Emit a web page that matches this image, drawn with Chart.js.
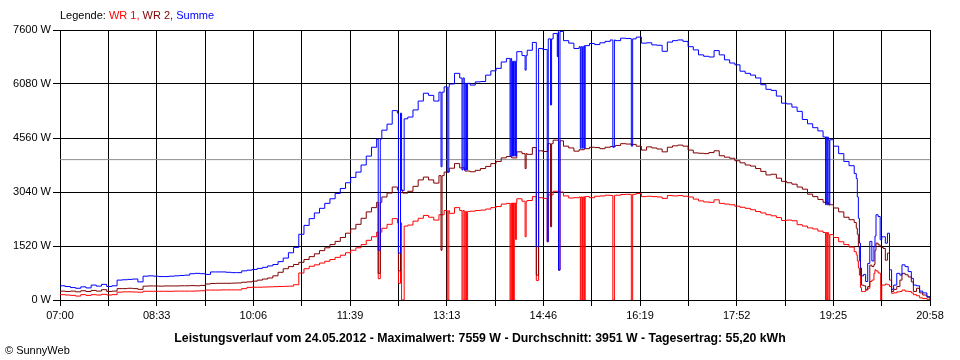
<!DOCTYPE html>
<html>
<head>
<meta charset="utf-8">
<script src="https://cdn.jsdelivr.net/npm/chart.js@4.4.1/dist/chart.umd.min.js"></script>
<style>
  html, body { margin: 0; padding: 0; background: #fff; }
  #wrap { position: relative; width: 960px; height: 360px; font-family: "Liberation Sans", Arial, sans-serif; color: #000; }
  #chart { position: absolute; left: 0; top: 0; }
  #legend  { position: absolute; left: 60px; top: 9px; font-size: 11px; line-height: 13px; white-space: nowrap; }
  #caption { position: absolute; left: 0; top: 331px; width: 960px; text-align: center; font-size: 12.3px; font-weight: bold; line-height: 14px; white-space: nowrap; }
  #copy    { position: absolute; left: 5px; top: 344px; font-size: 11px; line-height: 13px; }
</style>
</head>
<body>
<div id="wrap">
  <canvas id="chart" width="960" height="360"></canvas>
  <div id="legend">Legende: <span style="color:#ff0000">WR 1,</span> <span style="color:#800000">WR 2,</span> <span style="color:#0000ff">Summe</span></div>
  <div id="caption">Leistungsverlauf vom 24.05.2012 - Maximalwert: 7559 W - Durchschnitt: 3951 W - Tagesertrag: 55,20 kWh</div>
  <div id="copy">© SunnyWeb</div>
</div>
<script>
// ── Axis setup (minutes after 07:00) ─────────────────────
const xLabels  = ["07:00", "08:33", "10:06", "11:39", "13:13", "14:46", "16:19", "17:52", "19:25", "20:58"];
const yTicks   = [0, 1520, 3040, 4560, 6080, 7600];
const dayEnd   = 838;
const average  = 3951;

// ── 5-minute samples 07:00 .. 19:45 ──────────────────────
const dayMinutes = Array.from({ length: 154 }, (_, i) => i * 5);

const wr1Day = [
  150, 140, 130, 110, 150, 130, 150, 140, 160, 140,
  150, 220, 230, 230, 225, 220, 245, 245, 245, 245,
  245, 245, 250, 250, 250, 250, 255, 260, 280, 280,
  280, 285, 285, 285, 285, 320, 355, 360, 360, 365,
  370, 375, 380, 385, 390, 430, 760, 880, 950, 990,
  1040, 1090, 1140, 1200, 1260, 1330, 1400, 1470, 1560, 1680,
  1780, 1910, 2020, 2130, 2290, 2170, 2080, 2110, 2220, 2300,
  2380, 2330, 2250, 2400, 2520, 2440, 2600, 2520, 2490, 2500,
  2520, 2530, 2560, 2600, 2630, 2700, 2720, 2730, 2850, 2780,
  2800, 2910, 2880, 2860, 2960, 3060, 3040, 2930, 2870, 2880,
  2900, 2910, 2880, 2920, 2930, 2950, 2940, 2950, 2970, 2975,
  2975, 3000, 2910, 2920, 2910, 2900, 2860, 2940, 2930, 2940,
  2920, 2900, 2840, 2790, 2760, 2750, 2820, 2720, 2700, 2680,
  2640, 2610, 2580, 2540, 2490, 2450, 2400, 2370, 2320, 2240,
  2250, 2230, 2120, 2080, 2030, 2000, 1940, 1900, 1840, 1760,
  1640, 1560, 1490, 1360,
];

const wr2Day = [
  250, 240, 250, 230, 260, 240, 270, 250, 290, 240,
  250, 320, 320, 330, 320, 300, 390, 395, 395, 390,
  395, 395, 395, 400, 400, 405, 400, 410, 450, 465,
  470, 470, 470, 475, 480, 500, 510, 530, 560, 590,
  620, 680, 780, 880, 940, 1000, 1060, 1140, 1220, 1300,
  1390, 1470, 1560, 1650, 1760, 1880, 2000, 2130, 2300, 2480,
  2600, 2750, 2900, 3010, 3180, 3100, 3010, 3060, 3200, 3380,
  3460, 3380, 3290, 3500, 3600, 3710, 3840, 3720, 3630, 3610,
  3650, 3700, 3760, 3840, 3900, 4000, 4040, 4000, 4170, 4120,
  4100, 4290, 4200, 4180, 4400, 4500, 4480, 4330, 4280, 4190,
  4230, 4260, 4300, 4290, 4260, 4300, 4320, 4350, 4400, 4390,
  4380, 4330, 4220, 4310, 4280, 4250, 4170, 4300, 4340, 4360,
  4330, 4220, 4140, 4130, 4120, 4150, 4200, 4060, 4020, 3990,
  3920, 3860, 3800, 3770, 3700, 3620, 3520, 3540, 3430, 3340,
  3300, 3260, 3180, 3120, 2980, 2910, 2830, 2750, 2680, 2590,
  2480, 2330, 2260, 2180,
];

const summeDay = [
  400, 380, 350, 330, 370, 340, 420, 390, 440, 380,
  400, 560, 570, 580, 590, 510, 670, 680, 670, 660,
  660, 670, 680, 690, 700, 740, 750, 740, 720, 790,
  790, 790, 780, 770, 770, 820, 840, 860, 890, 920,
  960, 1000, 1080, 1180, 1330, 1480, 1850, 2100, 2290, 2450,
  2580, 2720, 2850, 3000, 3140, 3300, 3450, 3600, 3800, 4050,
  4300, 4530, 4780, 4950, 5330, 5260, 5100, 5150, 5350, 5600,
  5820, 5760, 5600, 5850, 6000, 6080, 6380, 6250, 6100, 6050,
  6140, 6150, 6330, 6450, 6520, 6700, 6800, 6720, 6990, 6880,
  7030, 7250, 7080, 7050, 7350, 7500, 7560, 7300, 7230, 7080,
  7130, 7160, 7220, 7190, 7240, 7280, 7320, 7300, 7370, 7360,
  7350, 7400, 7230, 7240, 7180, 7170, 7000, 7260, 7300, 7320,
  7280, 7130, 7040, 6900, 6860, 6840, 7020, 6900, 6760, 6670,
  6620, 6440, 6380, 6330, 6250, 6060, 5930, 5900, 5740, 5540,
  5520, 5430, 5310, 5080, 4960, 4850, 4760, 4590, 4510, 4330,
  4120, 3900, 3780, 3560,
];

// ── Dusk, denser samples 19:47 .. 20:58 ──────────────────
const duskMinutes = [767, 768, 769, 770, 771, 772, 774, 776, 778, 780, 782, 784, 785, 786, 788, 790, 790.5, 791.5,
                     793, 795, 797, 799, 801, 803, 806, 809, 811, 814, 817, 820, 822, 825, 828, 831, 835, 838];
const wr1Dusk   = [1270, 1100, 900, 700, 350, 240, 240, 280, 330, 520, 560, 750, 850, 820, 760, 750, 0, 420,
                   420, 450, 430, 380, 190, 200, 230, 240, 280, 250, 240, 200, 150, 120, 60, 40, 20, 10];
const wr2Dusk   = [2020, 1850, 1500, 1100, 700, 420, 400, 290, 380, 980, 940, 1000, 1400, 1600, 1550, 1500, 1500, 1480,
                   1450, 1120, 1320, 560, 240, 300, 380, 560, 750, 710, 650, 510, 240, 330, 200, 140, 80, 40];
const summeDusk = [3420, 2900, 2300, 1600, 900, 680, 720, 520, 1030, 1650, 1100, 1500, 1800, 2400, 2350, 1700, 1690, 1780,
                   1780, 1600, 1880, 850, 300, 420, 750, 700, 990, 940, 800, 610, 420, 400, 250, 200, 94, 40];

// ── Short dropouts: [from, to, WR 1, WR 2, Summe] (null = unaffected) ──
const dropouts = [
  [306.5, 308.5, 600, 750, 1400],
  [326, 328, 470, 820, 1320],
  [329, 331.5, 0, null, 3080],
  [367, 368, null, 1400, 3750],
  [373, 374.5, 0, null, 3600],
  [387.2, 388.2, 0, null, 3660],
  [389.4, 390.4, 0, null, 3660],
  [391.6, 392.6, 0, null, 3660],
  [433.5, 434.3, 0, null, 4050],
  [435.1, 435.9, 0, null, 4050],
  [436.8, 437.6, 0, null, 4050],
  [438.8, 439.6, 1700, null, 4050],
  [448, 449, 1780, 3700, 6470],
  [458.8, 461, 550, 700, 1500],
  [469.3, 470.3, 1640, null, 1640],
  [472.5, 473.5, null, 2060, 5490],
  [479, 479.6, null, null, 6850],
  [480.2, 481.6, 840, 3050, 840],
  [501.2, 502, 0, null, 4270],
  [503.2, 504, 0, null, 4270],
  [505.1, 505.9, 0, null, 4270],
  [532.5, 534, 0, null, 4300],
  [550.3, 551.6, 0, null, 4330],
  [737.4, 738.1, 0, null, 2680],
  [739.0, 739.7, 0, null, 2680],
  [740.8, 741.5, 0, null, 2680],
];

// ── Build point list for one series ──────────────────────
function buildSeries(day, dusk, col) {
  const drops = dropouts.filter(d => d[col] !== null);
  const pts = [];
  dayMinutes.forEach((m, i) => {
    if (!drops.some(d => m > d[0] && m < d[1])) pts.push({ x: m, y: day[i] });
  });
  drops.forEach(d => {
    const held = day[Math.floor(d[1] / 5)];
    pts.push({ x: d[0], y: d[col] }, { x: d[1], y: held });
  });
  duskMinutes.forEach((m, i) => pts.push({ x: m, y: dusk[i] }));
  return pts.sort((a, b) => a.x - b.x);
}

Chart.defaults.font.family = '"Liberation Sans", Arial, sans-serif';
Chart.defaults.font.size   = 11;
Chart.defaults.color       = "#000";

const lineStyle = { borderWidth: 1, pointRadius: 0, stepped: true, fill: false };

new Chart(document.getElementById("chart"), {
  type: "line",
  data: {
    datasets: [
      { label: "Summe", data: buildSeries(summeDay, summeDusk, 4), borderColor: "#0000ff", ...lineStyle },
      { label: "WR 2",  data: buildSeries(wr2Day, wr2Dusk, 3),     borderColor: "#800000", ...lineStyle },
      { label: "WR 1",  data: buildSeries(wr1Day, wr1Dusk, 2),     borderColor: "#ff0000", ...lineStyle },
      { label: "Durchschnitt", data: [{ x: 0, y: average }, { x: dayEnd, y: average }],
        borderColor: "#8c8c8c", borderWidth: 1, pointRadius: 0 },
    ],
  },
  options: {
    responsive: false,
    animation: false,
    layout: { padding: { left: 0, right: 30, top: 30, bottom: 0 } },
    scales: {
      x: {
        type: "linear",
        min: 0, max: dayEnd,
        afterBuildTicks: s => { s.ticks = Array.from({ length: 19 }, (_, i) => ({ value: i * dayEnd / 18 })); },
        afterFit: s => { s.height = 60; },
        ticks: {
          autoSkip: false, maxRotation: 0, padding: 3,
          callback: (v, i) => (i % 2 === 0 ? xLabels[i / 2] : ""),
        },
        grid:   { color: "#000", lineWidth: 1, tickLength: 6, tickColor: "#000" },
        border: { color: "#000" },
      },
      y: {
        min: 0, max: 7600,
        afterBuildTicks: s => { s.ticks = yTicks.map(v => ({ value: v })); },
        afterFit: s => { s.width = 60; },
        ticks:  { padding: 2, callback: v => `${v} W` },
        grid:   { color: "#000", lineWidth: 1, tickLength: 7, tickColor: "#000" },
        border: { color: "#000" },
      },
    },
    plugins: { legend: { display: false }, tooltip: { enabled: false } },
  },
});
</script>
</body>
</html>
